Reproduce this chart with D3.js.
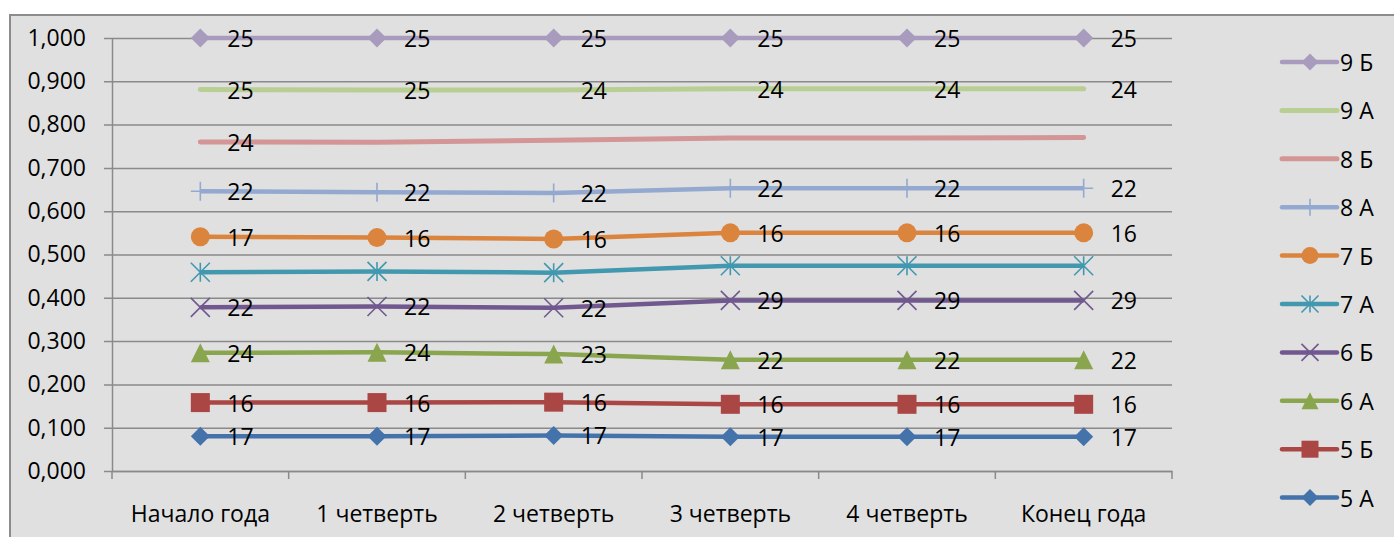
<!DOCTYPE html>
<html><head><meta charset="utf-8">
<script src="https://cdn.jsdelivr.net/npm/d3@7"></script>
<style>body{margin:0;background:#fff}svg{display:block}text{font-family:"Open Sans",sans-serif}</style>
</head><body><svg id="c" width="1394" height="537"></svg>
<script>
const categories = ["Начало года","1 четверть","2 четверть","3 четверть","4 четверть","Конец года"];
const yTicks = [0,0.1,0.2,0.3,0.4,0.5,0.6,0.7,0.8,0.9,1.0];
const seriesNames = ["5 А","5 Б","6 А","6 Б","7 А","7 Б","8 А","8 Б","9 А","9 Б"];
const v5A = [0.080,0.080,0.082,0.079,0.079,0.079];
const v5B = [0.158,0.158,0.159,0.154,0.154,0.154];
const v6A = [0.273,0.274,0.270,0.257,0.257,0.257];
const v6B = [0.378,0.380,0.377,0.394,0.394,0.394];
const v7A = [0.459,0.461,0.458,0.474,0.474,0.474];
const v7B = [0.541,0.539,0.536,0.550,0.550,0.550];
const v8A = [0.646,0.644,0.642,0.653,0.653,0.653];
const v8B = [0.760,0.759,0.764,0.769,0.769,0.770];
const v9A = [0.881,0.880,0.880,0.883,0.883,0.883];
const v9B = [1.000,1.000,1.000,1.000,1.000,1.000];
const l5A = ["17","17","17","17","17","17"];
const l5B = ["16","16","16","16","16","16"];
const l6A = ["24","24","23","22","22","22"];
const l6B = ["22","22","22","29","29","29"];
const l7A = [null,null,null,null,null,null];
const l7B = ["17","16","16","16","16","16"];
const l8A = ["22","22","22","22","22","22"];
const l8B = ["24",null,null,null,null,null];
const l9A = ["25","25","24","24","24","24"];
const l9B = ["25","25","25","25","25","25"];

const colors = ["#4473AB","#AA4643","#89A54E","#71588F","#4198AF","#DB843D","#93A9CF","#D39595","#B8CE93","#A99BBD"];
const markers = ["diamond","square","triangle","x","star","circle","plus","none","none","diamond"];
const values = [v5A,v5B,v6A,v6B,v7A,v7B,v8A,v8B,v9A,v9B];
const labels = [l5A,l5B,l6A,l6B,l7A,l7B,l8A,l8B,l9A,l9B];

const series = seriesNames.map((n,i)=>({name:n,color:colors[i],marker:markers[i],values:values[i],labels:labels[i]}));

const FS = 23;
const svg = d3.select("#c");
svg.append("rect").attr("x",10).attr("y",15).attr("width",1394).attr("height",540).attr("fill","#e0e0e0");
svg.append("path").attr("d","M10,540V15H1394").attr("fill","none").attr("stroke","#8c8c8c").attr("stroke-width",2);

const L=112,R=1172,T=38,B=471;
const x = d3.scaleBand().domain(categories).range([L,R]);
const y = d3.scaleLinear().domain([0,1]).range([B,T]);
const cx = c => x(c)+x.bandwidth()/2;
const fmt = v => d3.format(".3f")(v).replace(".",",");

const ya = svg.append("g").attr("transform",`translate(${L},0)`)
  .call(d3.axisLeft(y).tickValues(yTicks).tickFormat(fmt).tickSizeInner(-(R-L)).tickSizeOuter(0).tickPadding(26));
ya.select(".domain").attr("stroke","#8a8a8a").attr("stroke-width",1.5);
ya.selectAll(".tick line").attr("x1",-8).attr("x2",R-L).attr("stroke","#8a8a8a").attr("stroke-width",1.5);
ya.selectAll(".tick text").attr("font-size",FS).attr("fill","#000").attr("font-family","Open Sans");

const xa = svg.append("g").attr("transform",`translate(0,${B})`)
  .call(d3.axisBottom(x).tickSize(0).tickPadding(35));
xa.select(".domain").attr("stroke","#8a8a8a").attr("stroke-width",1.5);
xa.selectAll(".tick text").attr("font-size",FS).attr("fill","#000").attr("font-family","Open Sans");
const bounds = categories.map(c=>x(c)).concat([R]);
xa.selectAll("line.bt").data(bounds).enter().append("line").attr("class","bt")
  .attr("x1",d=>d).attr("x2",d=>d).attr("y1",0).attr("y2",8).attr("stroke","#8a8a8a").attr("stroke-width",1.5);

function drawMarker(g, type, color, px, py, s){
  const h = s/2;
  if(type==="diamond"){
    g.append("path").attr("d",`M${px-h},${py}L${px},${py-h}L${px+h},${py}L${px},${py+h}Z`).attr("fill",color);
  } else if(type==="square"){
    g.append("rect").attr("x",px-h).attr("y",py-h).attr("width",s).attr("height",s).attr("fill",color);
  } else if(type==="triangle"){
    g.append("path").attr("d",`M${px},${py-h}L${px+h},${py+h}L${px-h},${py+h}Z`).attr("fill",color);
  } else if(type==="circle"){
    g.append("circle").attr("cx",px).attr("cy",py).attr("r",h).attr("fill",color);
  } else if(type==="x"){
    g.append("path").attr("d",`M${px-h},${py-h}L${px+h},${py+h}M${px-h},${py+h}L${px+h},${py-h}`).attr("stroke",color).attr("stroke-width",1.6).attr("fill","none");
  } else if(type==="star"){
    g.append("path").attr("d",`M${px-h},${py-h}L${px+h},${py+h}M${px-h},${py+h}L${px+h},${py-h}M${px},${py-h}L${px},${py+h}`).attr("stroke",color).attr("stroke-width",1.6).attr("fill","none");
  } else if(type==="plus"){
    g.append("path").attr("d",`M${px-h},${py}L${px+h},${py}M${px},${py-h}L${px},${py+h}`).attr("stroke",color).attr("stroke-width",1.6).attr("fill","none");
  }
}

const line = d3.line().x((d,i)=>cx(categories[i])).y(d=>y(d));
const plot = svg.append("g");
series.forEach(s=>{
  const g = plot.append("g");
  g.append("path").datum(s.values).attr("d",line).attr("fill","none").attr("stroke",s.color)
    .attr("stroke-width",s.marker==="none"?5:4.5).attr("stroke-linecap",s.marker==="none"?"round":"butt");
  s.values.forEach((v,i)=>drawMarker(g,s.marker,s.color,cx(categories[i]),y(v),19));
});
series.forEach(s=>{
  s.values.forEach((v,i)=>{
    if(s.labels[i]==null) return;
    plot.append("text").attr("x",cx(categories[i])+27).attr("y",y(v)).attr("dominant-baseline","central")
      .attr("font-size",FS).attr("fill","#000").text(s.labels[i]);
  });
});

const leg = svg.append("g");
const legOrder = series.slice().reverse();
legOrder.forEach((s,k)=>{
  const ly = 62 + k*48.4;
  leg.append("line").attr("x1",1282).attr("x2",1337).attr("y1",ly).attr("y2",ly)
    .attr("stroke",s.color).attr("stroke-width",s.marker==="none"?5:4.5).attr("stroke-linecap","round");
  drawMarker(leg,s.marker,s.color,1310,ly,17);
  leg.append("text").attr("x",1340).attr("y",ly).attr("dominant-baseline","central")
    .attr("font-size",FS).attr("fill","#000").text(s.name);
});
</script></body></html>
